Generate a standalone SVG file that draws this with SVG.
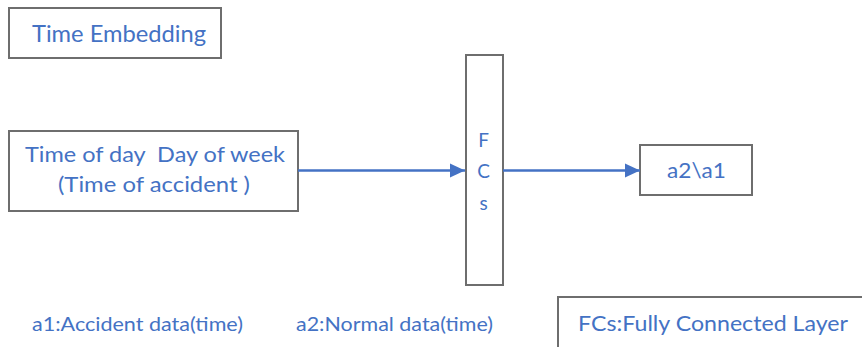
<svg xmlns="http://www.w3.org/2000/svg" width="862" height="347" viewBox="0 0 862 347">
  <style>
    .box { fill: #ffffff; stroke: #6e6e6e; stroke-width: 2; }
    .lbl { font-family: Lato, "Open Sans", "Liberation Sans", sans-serif; fill: #4472c4; }
    .wire { stroke: #4472c4; stroke-width: 2.5; fill: none; }
  </style>
  <defs>
    <marker id="head" markerUnits="userSpaceOnUse" markerWidth="16" markerHeight="16" viewBox="0 0 16 16" refX="15" refY="8" orient="auto">
      <path d="M0,1 L15,8 L0,15 Z" fill="#4472c4"/>
    </marker>
  </defs>
  <rect width="862" height="347" fill="#ffffff"/>

  <g id="time-embedding">
    <rect class="box" x="9" y="8" width="212" height="50"/>
    <text class="lbl" x="32" y="42" font-size="24" textLength="174" lengthAdjust="spacingAndGlyphs">Time Embedding</text>
  </g>

  <g id="time-input">
    <rect class="box" x="9" y="131" width="289" height="80"/>
    <text class="lbl" x="25" y="162" font-size="22" textLength="260" lengthAdjust="spacingAndGlyphs" xml:space="preserve">Time of day  Day of week</text>
    <text class="lbl" x="58" y="192" font-size="22" textLength="192" lengthAdjust="spacingAndGlyphs">(Time of accident )</text>
  </g>

  <g id="fcs">
    <rect class="box" x="466" y="55" width="37" height="230"/>
    <text class="lbl" x="483.5" y="147" font-size="19" text-anchor="middle">F</text>
    <text class="lbl" x="483.5" y="178" font-size="19" text-anchor="middle">C</text>
    <text class="lbl" x="483.5" y="210" font-size="19" text-anchor="middle">s</text>
  </g>

  <g id="output">
    <rect class="box" x="640" y="145" width="112" height="50"/>
    <text class="lbl" x="667" y="178" font-size="21" textLength="59" lengthAdjust="spacingAndGlyphs">a2\a1</text>
  </g>

  <g id="connectors">
    <line class="wire" x1="298" y1="170.5" x2="465" y2="170.5" marker-end="url(#head)"/>
    <line class="wire" x1="503" y1="170.5" x2="640" y2="170.5" marker-end="url(#head)"/>
  </g>

  <g id="legend">
    <text class="lbl" x="32" y="331" font-size="19" textLength="211" lengthAdjust="spacingAndGlyphs">a1:Accident data(time)</text>
    <text class="lbl" x="296" y="331" font-size="19" textLength="197" lengthAdjust="spacingAndGlyphs">a2:Normal data(time)</text>
    <g id="fcs-legend">
      <rect class="box" x="558" y="297" width="320" height="70"/>
      <text class="lbl" x="578" y="331" font-size="22" textLength="270" lengthAdjust="spacingAndGlyphs">FCs:Fully Connected Layer</text>
    </g>
  </g>
</svg>
